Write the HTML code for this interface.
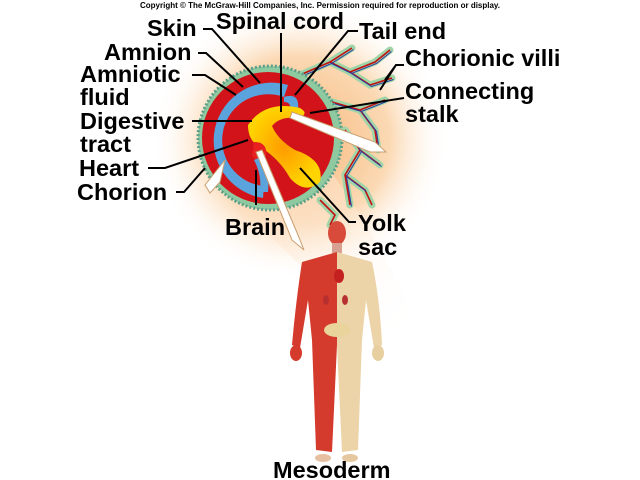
<!DOCTYPE html>
<html><head><meta charset="utf-8"><style>
html,body{margin:0;padding:0;background:#fff;width:640px;height:480px;overflow:hidden}
svg text{font-family:"Liberation Sans",Arial,sans-serif;font-weight:bold;fill:#000}
</style></head><body>
<svg width="640" height="480" viewBox="0 0 640 480" xmlns="http://www.w3.org/2000/svg">
<defs>
<radialGradient id="glow" cx="0.5" cy="0.5" r="0.5">
<stop offset="0" stop-color="#f7b77a"/><stop offset="0.6" stop-color="#fbd9b4"/><stop offset="1" stop-color="#fff" stop-opacity="0"/>
</radialGradient>
<linearGradient id="beam" x1="0" y1="0" x2="1" y2="1">
<stop offset="0" stop-color="#fcd9b6"/><stop offset="1" stop-color="#fff" stop-opacity="0"/>
</linearGradient>
<radialGradient id="yolk" cx="0.5" cy="0.5" r="0.5">
<stop offset="0" stop-color="#ff9a00"/><stop offset="1" stop-color="#ffd400"/>
</radialGradient>
</defs>
<rect width="640" height="480" fill="#fff"/>
<ellipse cx="300" cy="140" rx="150" ry="140" fill="url(#glow)"/>
<path d="M230 200 Q300 260 360 330 L420 330 Q380 240 330 170 Z" fill="url(#beam)" opacity="0.8"/>
<!-- villi -->
<g stroke="#9fd5a8" stroke-width="7" fill="none" stroke-linecap="round">
<path d="M300 75 L330 62 L352 48 M330 62 L350 72 L375 62 L390 50 M350 72 L370 85 L392 78 M325 100 L360 110 L385 100 M360 110 L375 130 L378 150 M345 130 L360 150 L345 175 L350 205 M360 150 L380 165 M345 175 L365 190 L372 205 M320 200 L335 215 L330 225"/>
</g>
<g stroke="#c01010" stroke-width="1.6" fill="none">
<path d="M300 75 L330 62 L352 48 M330 62 L350 72 L375 62 L390 50 M350 72 L370 85 L392 78 M325 100 L360 110 L385 100 M360 110 L375 130 L378 150 M345 130 L360 150 L345 175 L350 205 M360 150 L380 165 M345 175 L365 190 L372 205 M320 200 L335 215 L330 225"/>
</g>
<g stroke="#2a3aa0" stroke-width="1" fill="none" transform="translate(1.5,1.5)">
<path d="M300 75 L330 62 L352 48 M330 62 L350 72 L375 62 L390 50 M350 72 L370 85 L392 78 M325 100 L360 110 L385 100 M360 110 L375 130 L378 150 M345 130 L360 150 L345 175 L350 205 M360 150 L380 165 M345 175 L365 190"/>
</g>
<!-- embryo discs -->
<circle cx="270" cy="138" r="72" fill="#8ec9a0" stroke="#5a9f8a" stroke-width="3" stroke-dasharray="2 2"/>
<circle cx="268" cy="138" r="66" fill="#d2141a"/>
<path d="M288 85 A58 58 0 1 0 263 198 L264 186 A46 46 0 1 1 284 97 Z" fill="#5aa3dc"/>
<path d="M284 97 Q300 92 298 110 L290 112 Q292 102 284 102 Z" fill="#5aa3dc"/>
<!-- digestive / yolk -->
<path d="M248 125 Q265 100 300 108 Q310 114 298 118 Q280 116 272 126 Q278 140 295 150 Q325 160 320 182 Q305 195 290 178 Q280 160 262 148 Q248 142 248 125 Z" fill="url(#yolk)"/>
<path d="M254 142 Q268 142 266 156 Q258 164 252 156 Z" fill="#e82020"/>
<path d="M254 160 Q262 175 260 192 L268 192 Q270 170 263 156 Z" fill="#5aa3dc"/>
<!-- arrows -->
<path d="M292 112 L375 142 L386 152 L370 152 L290 118 Z" fill="#fff" stroke="#c9a070" stroke-width="1"/>
<path d="M262 150 L298 235 L304 250 L292 240 L256 152 Z" fill="#fff" stroke="#c9a070" stroke-width="1"/>
<path d="M225 160 L205 185 L210 193 L220 182 Z" fill="#fff" stroke="#c9a070" stroke-width="1"/>
<!-- human figure -->
<g>
<ellipse cx="337" cy="233" rx="9" ry="12" fill="#d84a3a"/>
<rect x="332" y="243" width="10" height="10" fill="#d8a090"/>
<path d="M337 252 L302 262 Q296 300 292 345 L300 348 L308 300 L312 340 L316 450 L332 452 L337 345 Z" fill="#d53b2d"/>
<path d="M337 252 L372 262 Q380 300 382 345 L374 348 L366 300 L362 340 L358 450 L342 452 L337 345 Z" fill="#ecd3a8"/>
<ellipse cx="296" cy="353" rx="6" ry="8" fill="#d53b2d"/>
<ellipse cx="378" cy="353" rx="6" ry="8" fill="#e8cfa0"/>
<ellipse cx="337" cy="330" rx="13" ry="7" fill="#e9d49c"/>
<ellipse cx="339" cy="276" rx="5" ry="7" fill="#c42020"/>
<ellipse cx="326" cy="300" rx="3" ry="5" fill="#b73030"/><ellipse cx="345" cy="300" rx="3" ry="5" fill="#b73030"/>
<ellipse cx="323" cy="458" rx="8" ry="4" fill="#e6c0a0"/><ellipse cx="350" cy="458" rx="8" ry="4" fill="#e6c8a0"/>
</g>
<!-- leader lines -->
<g stroke="#000" stroke-width="2" fill="none">
<path d="M203 29 L212 29 L260 83"/>
<path d="M281 33 L281 112"/>
<path d="M358 31 L348 31 L295 95"/>
<path d="M198 53 L206 53 L243 87"/>
<path d="M404 65 L396 65 L385 80 M396 65 L380 90"/>
<path d="M192 75 L205 75 L236 95"/>
<path d="M404 98 L310 113"/>
<path d="M192 121 L252 121"/>
<path d="M148 168 L165 168 L248 140"/>
<path d="M176 192 L184 192 L205 168"/>
<path d="M256 205 L256 170"/>
<path d="M356 222 L349 222 L300 168"/>
</g>
<!-- labels -->
<text x="320" y="8" font-size="8" text-anchor="middle">Copyright © The McGraw-Hill Companies, Inc. Permission required for reproduction or display.</text>
<g font-size="23.5">
<text x="147" y="36">Skin</text>
<text x="216" y="29">Spinal cord</text>
<text x="359" y="39">Tail end</text>
<text x="104" y="60">Amnion</text>
<text x="405" y="66">Chorionic villi</text>
<text x="80" y="82">Amniotic</text>
<text x="80" y="105">fluid</text>
<text x="405" y="99">Connecting</text>
<text x="405" y="122">stalk</text>
<text x="80" y="129">Digestive</text>
<text x="80" y="152">tract</text>
<text x="79" y="176">Heart</text>
<text x="77" y="200">Chorion</text>
<text x="225" y="235">Brain</text>
<text x="358" y="231">Yolk</text>
<text x="358" y="255">sac</text>
<text x="273" y="478">Mesoderm</text>
</g>
</svg>
</body></html>
